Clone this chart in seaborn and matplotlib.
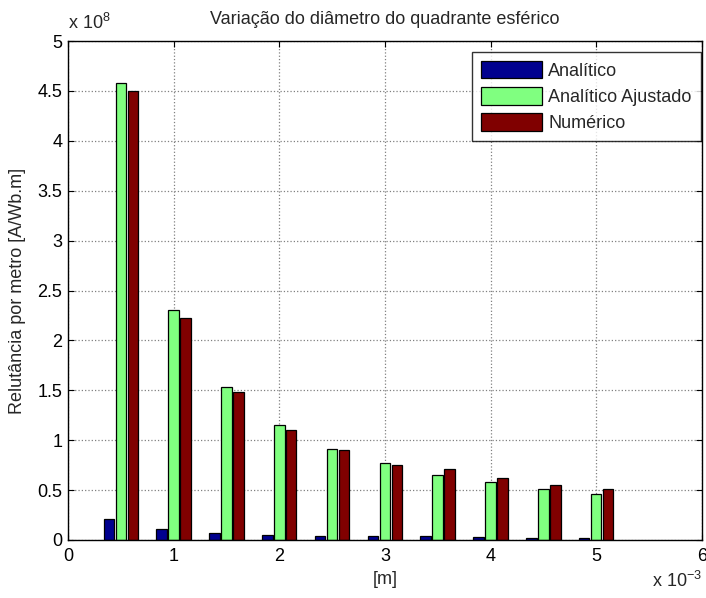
import matplotlib
matplotlib.use("Agg")
import matplotlib.pyplot as plt
from matplotlib.ticker import FuncFormatter, MultipleLocator
import seaborn as sns
import pandas as pd

# Sphere-quadrant diameter [m]
diametro = [0.5e-3, 1.0e-3, 1.5e-3, 2.0e-3, 2.5e-3, 3.0e-3, 3.5e-3, 4.0e-3, 4.5e-3, 5.0e-3]

# Reluctance per metre [A/Wb.m]
analitico = [0.215e8, 0.115e8, 0.070e8, 0.053e8, 0.043e8, 0.040e8, 0.038e8, 0.025e8, 0.023e8, 0.021e8]
analitico_ajustado = [4.58e8, 2.30e8, 1.53e8, 1.152e8, 0.915e8, 0.77e8, 0.653e8, 0.58e8, 0.506e8, 0.463e8]
numerico = [4.50e8, 2.22e8, 1.485e8, 1.105e8, 0.90e8, 0.755e8, 0.71e8, 0.623e8, 0.553e8, 0.51e8]

series_names = ["Analítico", "Analítico Ajustado", "Numérico"]
series_colors = ["#00008F", "#80FF80", "#800000"]

df = pd.DataFrame({
    "d": diametro * 3,
    "R": analitico + analitico_ajustado + numerico,
    "serie": [series_names[0]] * len(diametro)
             + [series_names[1]] * len(diametro)
             + [series_names[2]] * len(diametro),
})

FS = 13

sns.set_style("white")
plt.rcParams["font.family"] = ["Liberation Sans", "DejaVu Sans"]
plt.rcParams["mathtext.fontset"] = "custom"
plt.rcParams["mathtext.rm"] = "Liberation Sans"
plt.rcParams["mathtext.default"] = "regular"

fig = plt.figure(figsize=(7.06, 5.98), dpi=100)
ax = fig.add_axes([0.0963, 0.097, 0.8977, 0.8344])

sns.barplot(
    data=df, x="d", y="R", hue="serie", hue_order=series_names,
    palette=series_colors, native_scale=True, width=0.68, gap=0.12,
    edgecolor="black", linewidth=0.9, saturation=1, errorbar=None, ax=ax,
)

ax.set_xlim(0, 6e-3)
ax.set_ylim(0, 5e8)
ax.xaxis.set_major_locator(MultipleLocator(1e-3))
ax.yaxis.set_major_locator(MultipleLocator(0.5e8))
ax.xaxis.set_major_formatter(FuncFormatter(lambda v, p: f"{v / 1e-3:g}"))
ax.yaxis.set_major_formatter(FuncFormatter(lambda v, p: f"{v / 1e8:g}"))

ax.grid(True, linestyle=":", color="#808080", linewidth=0.9)
ax.set_axisbelow(True)
for s in ax.spines.values():
    s.set_visible(True)
    s.set_color("black")
    s.set_linewidth(1.0)
ax.tick_params(axis="both", which="both", direction="in", length=4,
               top=True, right=True, bottom=True, left=True,
               labelsize=FS, colors="black")
ax.tick_params(axis="x", pad=6)
ax.tick_params(axis="y", pad=4)

ax.set_title("Variação do diâmetro do quadrante esférico", fontsize=FS, pad=12)
ax.set_xlabel("[m]", fontsize=FS, labelpad=4)
ax.set_ylabel("Relutância por metro [A/Wb.m]", fontsize=FS, labelpad=8)

fig.text(0.0963, 0.945, r"x 10$^{8}$", fontsize=FS, ha="left", va="bottom")
fig.text(0.995, 0.012, r"x 10$^{-3}$", fontsize=FS, ha="right", va="bottom")

leg = ax.legend(loc="upper right", bbox_to_anchor=(0.9985, 0.979), fontsize=FS,
                frameon=True, fancybox=False, edgecolor="black",
                handlelength=3.4, handleheight=1.15, labelspacing=0.4,
                borderpad=0.5, handletextpad=0.35, borderaxespad=0.0)
leg.get_frame().set_linewidth(1.0)

fig.savefig("out.png", dpi=100)
